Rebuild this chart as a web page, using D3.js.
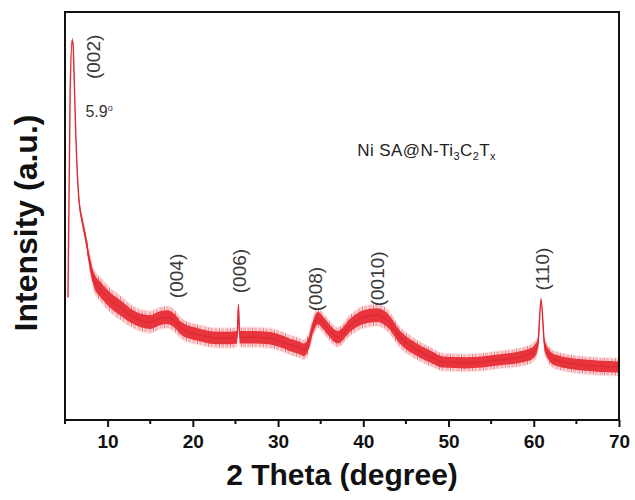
<!DOCTYPE html>
<html>
<head>
<meta charset="utf-8">
<script src="https://cdn.jsdelivr.net/npm/d3@7/dist/d3.min.js"></script>
<style>
  body { margin: 0; background: #fff; }
  svg { display: block; font-family: Arial, "Liberation Sans", sans-serif; }
</style>
</head>
<body>
<div class="xrd"></div>
<script>
// 2 theta positions (degree)
const twoTheta = [5.35, 5.6, 5.85, 5.95, 6.05, 6.25, 6.6, 7.0, 7.4, 8.0, 8.4, 9.2, 10.3, 11.5, 13.0, 15.0,
  16.2, 17.0, 18.0, 18.6, 20.9, 22.9, 24.4, 25.2, 25.35, 25.5, 26.8, 28.8, 30.6, 31.4, 32.6, 33.0,
  33.6, 34.1, 34.7, 35.2, 35.8, 37.0, 38.5, 40.0, 41.6, 42.8, 44.3, 46.3, 48.2, 49.3, 52.0, 55.8,
  59.3, 60.2, 60.5, 60.85, 61.3, 62.5, 65.7, 69.9];
// intensity (a.u.), middle of the noisy trace
const intensity = [30, 80, 93, 92, 86, 71, 55, 49, 44.9, 37.5, 34.3, 31.9, 29.4, 27.5, 25.2, 24.0,
  25.0, 25.2, 24.0, 22.5, 20.8, 20.1, 20.1, 20.3, 28.2, 20.3, 20.3, 20.1, 19.1, 18.4, 17.6, 17.2,
  18.9, 22.8, 25.0, 24.0, 22.5, 20.3, 23.3, 25.2, 25.7, 24.5, 20.3, 17.2, 15.2, 14.2, 14.0, 14.7,
  15.9, 17.2, 18.9, 29.4, 17.9, 14.7, 13.5, 13.0];
// half height of the noise band (a.u.)
const spread = [0.5, 0.6, 0.6, 0.6, 0.6, 0.6, 0.8, 1.0, 1.2, 1.8, 2.0, 2.2, 2.2, 2.2, 2.0, 2.0,
  2.0, 2.0, 2.0, 1.9, 1.8, 1.8, 1.8, 1.8, 0.4, 1.8, 1.8, 1.8, 1.8, 1.8, 1.8, 1.8,
  1.8, 1.8, 1.8, 1.8, 1.8, 1.8, 1.9, 2.0, 2.0, 2.0, 1.9, 1.8, 1.7, 1.6, 1.6, 1.6,
  1.7, 1.7, 1.5, 0.6, 1.5, 1.6, 1.6, 1.6];

const xTicks = [10, 20, 30, 40, 50, 60, 70];
const xMinorTicks = [5, 15, 25, 35, 45, 55, 65];

// peak labels: text, 2theta and intensity of the label centre
const peakNames = ["(002)", "(004)", "(006)", "(008)", "(0010)", "(110)"];
const peakTheta = [8.3, 18.1, 25.5, 34.4, 41.7, 61.0];
const peakLevel = [89, 35.3, 36.5, 32.1, 34.6, 37.0];

const margin = {top: 12, right: 16, bottom: 80, left: 65},
  width = 635 - margin.left - margin.right,
  height = 500 - margin.top - margin.bottom;

const root = d3.select(".xrd")
  .append("svg")
  .attr("width", 635)
  .attr("height", 500);

// faint vertical hatching for the fuzzy edge of the trace
const pat = root.append("defs").append("pattern")
  .attr("id", "fringe")
  .attr("patternUnits", "userSpaceOnUse")
  .attr("width", 11)
  .attr("height", 60);
[[0, 0.9, 0.9], [2, 0.7, 0.5], [3.5, 1, 0.75], [6, 0.6, 0.4], [7.5, 0.9, 0.85], [9.5, 0.7, 0.55]]
  .forEach(s => pat.append("rect")
    .attr("x", s[0]).attr("y", 0)
    .attr("width", s[1]).attr("height", 60)
    .attr("fill", "#f06068").attr("opacity", s[2]));

const svg = root.append("g")
  .attr("transform", `translate(${margin.left},${margin.top})`);

const x = d3.scaleLinear().domain([5, 70]).range([0, width]);
const y = d3.scaleLinear().domain([0, 100]).range([height, 0]);

const data = twoTheta.map((t, i) => ({t: t, v: intensity[i], s: spread[i]}));

// noisy band: soft halo, fuzzy fringe, then the dense core
const band = k => d3.area()
  .x(d => x(d.t))
  .y0(d => y(d.v - d.s * k))
  .y1(d => y(d.v + d.s * k))
  .curve(d3.curveMonotoneX);

svg.append("path")
  .datum(data)
  .attr("d", band(1.45))
  .attr("fill", "#fbd3d6")
  .attr("opacity", 0.6);

svg.append("path")
  .datum(data)
  .attr("d", band(1.3))
  .attr("fill", "url(#fringe)");

svg.append("path")
  .datum(data)
  .attr("d", band(0.85))
  .attr("fill", "#e8343c");

svg.append("path")
  .datum(data)
  .attr("d", d3.line().x(d => x(d.t)).y(d => y(d.v)).curve(d3.curveMonotoneX))
  .attr("fill", "none")
  .attr("stroke", "#e02a33")
  .attr("stroke-width", 1.4);

// frame
svg.append("rect")
  .attr("width", width)
  .attr("height", height)
  .attr("fill", "none")
  .attr("stroke", "#111")
  .attr("stroke-width", 2);

// x axis
const xAxis = svg.append("g")
  .attr("transform", `translate(0,${height})`)
  .call(d3.axisBottom(x).tickValues(xTicks).tickSize(7).tickPadding(8).tickFormat(d3.format("d")));
xAxis.select(".domain").remove();
xAxis.selectAll(".tick line").attr("stroke", "#111").attr("stroke-width", 2);
xAxis.selectAll(".tick text")
  .attr("font-size", "19px")
  .attr("font-weight", "bold")
  .attr("fill", "#111");

svg.append("g")
  .attr("transform", `translate(0,${height})`)
  .selectAll("line")
  .data(xMinorTicks)
  .join("line")
  .attr("x1", d => x(d))
  .attr("x2", d => x(d))
  .attr("y1", 0)
  .attr("y2", 4)
  .attr("stroke", "#111")
  .attr("stroke-width", 2);

// axis titles
svg.append("text")
  .attr("x", width / 2)
  .attr("y", height + 65)
  .attr("text-anchor", "middle")
  .attr("font-size", "30px")
  .attr("font-weight", "bold")
  .attr("fill", "#111")
  .text("2 Theta (degree)");

svg.append("text")
  .attr("transform", `translate(${-28},${height / 2 + 7}) rotate(-90)`)
  .attr("text-anchor", "middle")
  .attr("font-size", "32px")
  .attr("font-weight", "bold")
  .attr("fill", "#111")
  .text("Intensity (a.u.)");

// peak labels
svg.append("g")
  .selectAll("text")
  .data(peakNames)
  .join("text")
  .attr("transform", (d, i) => `translate(${x(peakTheta[i])},${y(peakLevel[i])}) rotate(-90)`)
  .attr("text-anchor", "middle")
  .attr("dominant-baseline", "central")
  .attr("font-size", "19px")
  .attr("fill", "#3a3a3a")
  .text(d => d);

// peak position
const pos = svg.append("text")
  .attr("x", x(7.4))
  .attr("y", y(74.3))
  .attr("font-size", "16px")
  .attr("fill", "#333");
pos.append("tspan").text("5.9");
pos.append("tspan").attr("font-size", "9px").attr("dy", -6).text("o");

// sample name
const name = svg.append("text")
  .attr("x", x(39.3))
  .attr("y", y(64.7))
  .attr("font-size", "17px")
  .attr("letter-spacing", "0.4px")
  .attr("fill", "#222");
name.append("tspan").text("Ni SA@N-Ti");
name.append("tspan").attr("font-size", "11px").attr("dy", 4).text("3");
name.append("tspan").attr("dy", -4).text("C");
name.append("tspan").attr("font-size", "11px").attr("dy", 4).text("2");
name.append("tspan").attr("dy", -4).text("T");
name.append("tspan").attr("font-size", "11px").attr("dy", 4).text("x");
</script>
</body>
</html>
